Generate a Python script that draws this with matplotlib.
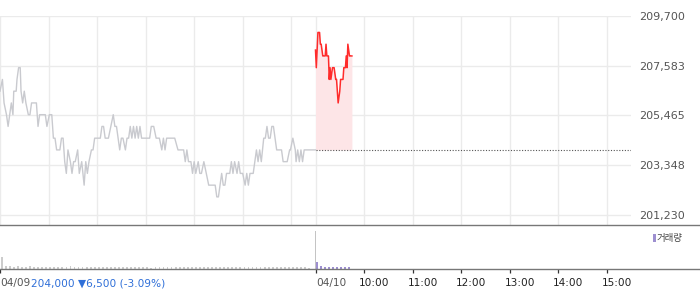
import matplotlib
matplotlib.use("Agg")
import matplotlib.pyplot as plt
from matplotlib.patches import Rectangle
from matplotlib.lines import Line2D

plt.rcParams['font.family'] = ['DejaVu Sans']

# ---------------- data ----------------
# previous day (04/09) minutes since 09:00 and price
d1_min = [0,3,5,8,10,12,14,16,17,20,
          21,23,25,26,28,30,32,35,37,39,
          41,43,45,47,49,52,56,58,61,64,
          66,68,70,72,74,76,78,80,82,84,
          87,89,91,93,96,98,101,104,106,108,
          110,113,115,117,120,124,126,128,130,132,
          134,137,140,142,144,146,148,150,152,155,
          157,159,161,163,165,167,169,171,173,175,
          177,179,181,185,187,190,193,194,197,200,
          202,204,206,208,211,214,216,220,225,227,
          229,231,233,236,238,240,242,245,247,249,
          252,255,258,260,263,266,268,270,272,274,
          276,278,280,282,284,286,288,290,293,295,
          297,300,303,305,307,309,311,313,315,317,
          319,321,323,326,328,330,332,334,336,338,
          340,342,344,346,348,350,354,355,358,359,
          362,365,366,368,370,372,374,376,378,381,
          390]
d1_price = [206500,207000,206000,205500,205000,205500,206000,205500,206500,206500,
            207000,207500,207500,206500,206000,206500,206000,205500,205500,206000,
            206000,206000,206000,205000,205500,205500,205500,205000,205500,205500,
            204500,204500,204000,204000,204000,204500,204500,203500,203000,204000,
            203500,203000,203500,203500,204000,203000,203500,202500,203500,203000,
            203500,204000,204000,204500,204500,204500,205000,205000,204500,204500,
            204500,205000,205500,205000,205000,204500,204000,204500,204500,204000,
            204500,204500,205000,204500,205000,204500,205000,204500,205000,204500,
            204500,204500,204500,204500,205000,205000,204500,204500,204500,204000,
            204500,204000,204500,204500,204500,204500,204500,204000,204000,204000,
            203500,204000,203500,203500,203000,203500,203000,203500,203000,203000,
            203500,203000,202500,202500,202500,202500,202000,202000,202500,203000,
            202500,202500,203000,203000,203000,203500,203000,203500,203000,203500,
            203000,203000,202500,203000,202500,203000,203000,203000,203500,204000,
            203500,204000,203500,204500,204500,205000,204500,204500,205000,205000,
            204500,204000,204000,204000,204000,203500,203500,203500,204000,204000,
            204500,204000,203500,204000,203500,204000,203500,204000,204000,204000,
            204000]

# today (04/10) minutes since 09:00 and price
d2_min = [0,1,3,5,6,7,9,10,12,13,14,16,17,18,19,21,23,25,26,28,30,31,34,35,37,38,39,40,42,43,45]
d2_price = [208250,207500,209000,209000,208500,208500,208000,208000,208000,208500,
            208000,208000,207000,207500,207000,207500,207500,207000,207000,206000,
            206500,207000,207000,207500,207500,208000,207500,208500,208000,208000,
            208000]

prev_close = 204000
y_ticks = [201230, 203348, 205465, 207583, 209700]
y_labels = ["201,230", "203,348", "205,465", "207,583", "209,700"]

# volumes (5-minute buckets)
vol1 = [18000, 4200, 3500, 3000, 3800, 2600, 2400, 3300, 2800, 2200,
        2500, 3000, 2700, 2300, 2100, 2600, 2900, 3400, 2500, 2300,
        2000, 2400, 2800, 3200, 2600, 2200, 2000, 1800, 2300, 2600,
        2100, 1900, 1700, 2200, 2500, 2000, 1800, 1600, 2100, 2400,
        2000, 1800, 2300, 2700, 3000, 2500, 2200, 2000, 2600, 2900,
        2400, 2100, 1900, 2200, 2600, 3100, 2800, 2400, 2000, 2300,
        2700, 2500, 2200, 2000, 1800, 2100, 2400, 2000, 1900, 2300,
        2600, 2200, 2000, 2400, 2800, 2500, 1500, 0]
close_vol = 60000
vol2 = [11000, 3500, 2600, 3000, 2400, 2800, 2200, 2600, 2000]

x_tick_min = [0, 390, 450, 510, 570, 630, 690, 750]
x_tick_lab = ["04/09", "04/10", "10:00", "11:00", "12:00", "13:00", "14:00", "15:00"]
grid_min = [0, 60, 120, 180, 240, 300, 360, 390, 450, 510, 570, 630, 690, 750]

info_text = "204,000 \u25bc6,500 (-3.09%)"
legend_label = "거래량"

# ---------------- figure ----------------
W, H = 700, 289
fig = plt.figure(figsize=(W / 100, H / 100), dpi=100)

def fx(px):
    return px / W

def fy(py):
    return (H - py) / H

ax = fig.add_axes([0, fy(225), fx(631), (225 - 16) / H])
vax = fig.add_axes([0, fy(268.5), fx(631), (268.5 - 225) / H])

for a in (ax, vax):
    for s in a.spines.values():
        s.set_visible(False)
    a.set_xlim(0, 780)

# main price panel
ax.set_ylim(200804, 209700)
ax.set_xticks(grid_min)
ax.set_xticklabels([])
ax.tick_params(axis='x', length=0)
ax.set_yticks(y_ticks)
ax.set_yticklabels(y_labels)
ax.yaxis.tick_right()
ax.tick_params(axis='y', length=0, pad=5.8, labelsize=8, labelcolor='#555555')
ax.grid(True, color='#ebebeb', lw=1)
ax.set_axisbelow(True)

ax.plot(d1_min, d1_price, color='#c9cacf', lw=1.0, zorder=3)
x2 = [390 + m for m in d2_min]
ax.fill_between(x2, d2_price, prev_close, color='#fde5e7', lw=0, zorder=2)
ax.plot(x2, d2_price, color='#ff2b2b', lw=1.1, zorder=4)
ax.plot([390, 780], [prev_close, prev_close], color='#555555', lw=0.8,
        linestyle=(0, (1, 1.5)), zorder=3)

# volume panel
vax.set_ylim(0, 70000)
vax.set_yticks([])
v1x = [i * 5 + 1 for i in range(len(vol1))]
vax.bar(v1x, vol1, width=2.2, color='#cccccc', lw=0, align='edge')
vax.bar([389.2], [close_vol], width=1.0, color='#c4c4c4', lw=0, align='edge')
v2x = [390.3 + i * 5 for i in range(len(vol2))]
vax.bar(v2x, vol2, width=2.2, color='#9d8fd0', lw=0, align='edge')
vax.set_xticks(x_tick_min)
vax.set_xticklabels([])
vax.tick_params(axis='x', direction='out', length=3.2, width=0.9, color='#333333')

# bottom labels
for m, lab in zip(x_tick_min, x_tick_lab):
    if lab == "04/09":
        t0 = vax.annotate(lab, xy=(m, 0), xycoords=('data', 'axes fraction'),
                          xytext=(0.3, -10.5), textcoords='offset points',
                          ha='left', va='center', fontsize=7.6, color='#555555')
        vax.annotate(info_text, xy=(1, 0.5), xycoords=t0, xytext=(0, 0),
                     textcoords='offset points', ha='left', va='center',
                     fontsize=7.6, color='#2f6fd8')
    elif lab == "04/10":
        vax.annotate(lab, xy=(m, 0), xycoords=('data', 'axes fraction'),
                     xytext=(0.7, -10.5), textcoords='offset points',
                     ha='left', va='center', fontsize=7.6, color='#555555')
    else:
        vax.annotate(lab, xy=(m, 0), xycoords=('data', 'axes fraction'),
                     xytext=(-3.6, -10.5), textcoords='offset points',
                     ha='left', va='center', fontsize=7.6, color='#222222')

# separator lines (full width)
for py in (225, 268.5):
    fig.add_artist(Line2D([0, 1], [fy(py), fy(py)], transform=fig.transFigure,
                          color='#777777', lw=1.0))

# legend
fig.add_artist(Rectangle((fx(653), fy(242)), fx(2.5) , 8 / H,
                         transform=fig.transFigure, color='#9d8fd0', lw=0))
fig.text(fx(657), fy(238), legend_label, family=['Noto Sans CJK KR', 'DejaVu Sans'],
         fontsize=6.8, color='#444444', ha='left', va='center')

fig.savefig("out.png", dpi=100)
